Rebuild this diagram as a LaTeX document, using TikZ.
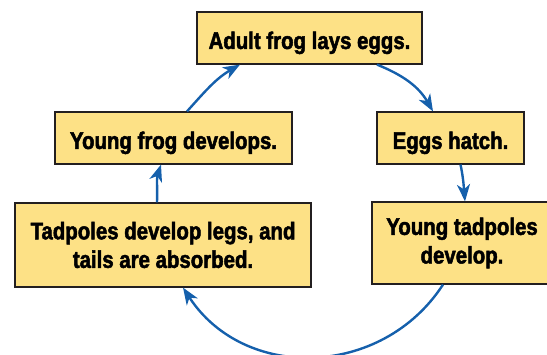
\documentclass[tikz,border=0pt]{standalone}
\usepackage{fontspec}
\setmainfont{Liberation Sans}[FakeStretch=0.85,BoldFeatures={FakeBold=2}]
\usetikzlibrary{arrows.meta}
\definecolor{boxfill}{RGB}{253,225,134}
\definecolor{boxline}{RGB}{35,31,32}
\definecolor{arrowblue}{RGB}{21,96,172}
\begin{document}
\begin{tikzpicture}[x=1pt,y=-1pt,
  stagebox/.style={draw=boxline,line width=1.2pt,fill=boxfill,inner sep=0pt,
    align=center,font=\bfseries\fontsize{24}{28.6}\selectfont},
  oneline/.style={text height=22pt,text depth=0pt},
  cyc/.style={draw=arrowblue,line width=2.4pt,
    -{Stealth[length=17pt,width=13pt,inset=5pt]}}]
\useasboundingbox (0,0) rectangle (547,355);
\node[stagebox,oneline,minimum width=225pt,minimum height=52pt] (adult) at (309.5,38) {Adult frog lays eggs.};
\node[stagebox,oneline,minimum width=237pt,minimum height=52pt] (yfrog) at (173.5,138) {Young frog develops.};
\node[stagebox,oneline,minimum width=147pt,minimum height=52pt] (eggs) at (450.5,138) {Eggs hatch.};
\node[stagebox,minimum width=296pt,minimum height=84pt] (legs) at (163,245) {Tadpoles develop legs, and\\tails are absorbed.};
\node[stagebox,minimum width=180pt,minimum height=82pt] (ytad) at (462,243) {Young tadpoles\\develop.};
\draw[cyc] ([xshift=13.5pt]yfrog.north) to[out=48,in=-150] ([xshift=-69.5pt]adult.south);
\draw[cyc] ([xshift=67.5pt]adult.south) to[out=-22,in=120] ([xshift=-17.5pt]eggs.north);
\draw[cyc] ([xshift=10pt]eggs.south) to[out=-78,in=95] ([xshift=3pt]ytad.north);
\draw[cyc] ([xshift=-19pt]ytad.south) to[out=-123,in=-57,looseness=1.1] ([xshift=20pt]legs.south);
\draw[cyc] ([xshift=-6pt]legs.north) to[out=88,in=-108] ([xshift=-12.5pt]yfrog.south);
\end{tikzpicture}
\end{document}
